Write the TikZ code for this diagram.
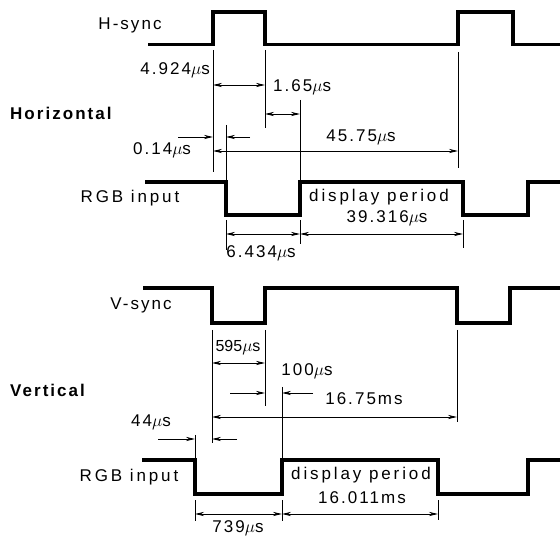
\documentclass[tikz,border=0pt]{standalone}
\usepackage{fontspec}
\setmainfont{Liberation Sans}[LetterSpace=12]
\newfontfamily\tightfont{Liberation Sans}
\newfontfamily\widefont{Liberation Sans}[LetterSpace=17]
\usetikzlibrary{arrows.meta}
\begin{document}
\begin{tikzpicture}[x=1pt,y=-1pt,
  sig/.style={line width=3.2pt, line join=miter},
  ext/.style={line width=0.9pt},
  dim/.style={line width=0.9pt,{Stealth[length=9pt,width=4.2pt]}-{Stealth[length=9pt,width=4.2pt]}},
  ina/.style={line width=0.9pt,-{Stealth[length=9pt,width=4.2pt]}},
  lbl/.style={inner sep=0pt, anchor=mid, font=\fontsize{17pt}{20pt}\selectfont},
  wlbl/.style={lbl, font=\fontsize{17pt}{20pt}\widefont},
  hd/.style={lbl, font=\fontsize{17pt}{20pt}\selectfont\bfseries}]
\useasboundingbox (0,0) rectangle (560,537);

% ---------- Horizontal ----------
\draw[sig] (148,44.5) -- (213,44.5) -- (213,12) -- (265,12) -- (265,44.5) -- (458,44.5) -- (458,12) -- (513,12) -- (513,44.5) -- (560,44.5);
\draw[sig] (145,182) -- (226,182) -- (226,215) -- (300,215) -- (300,182) -- (463,182) -- (463,215) -- (528,215) -- (528,182) -- (560,182);

% extension lines
\draw[ext] (213,50) -- (213,172);
\draw[ext] (265,50) -- (265,128);
\draw[ext] (458,52) -- (458,168);
\draw[ext] (300,100) -- (300,180);
\draw[ext] (226,125) -- (226,180);
\draw[ext] (226,220) -- (226,250);
\draw[ext] (300,220) -- (300,244);
\draw[ext] (463,220) -- (463,248);

% dimension arrows
\coordinate (a1) at (213,85);  \coordinate (b1) at (265,85);
\draw[dim] (a1) -- (b1);
\coordinate (a2) at (265,114); \coordinate (b2) at (300,114);
\draw[dim] (a2) -- (b2);
\coordinate (a3) at (178,137); \coordinate (b3) at (213,137);
\draw[ina] (a3) -- (b3);
\coordinate (a4) at (250,137); \coordinate (b4) at (226,137);
\draw[ina] (a4) -- (b4);
\coordinate (a5) at (213,151); \coordinate (b5) at (458,151);
\draw[dim] (a5) -- (b5);
\coordinate (a6) at (226,234); \coordinate (b6) at (300,234);
\draw[dim] (a6) -- (b6);
\coordinate (a7) at (300,234); \coordinate (b7) at (463,234);
\draw[dim] (a7) -- (b7);

% labels
\node[lbl] (hsync) at (130,27) {H-sync};
\node[lbl,anchor=mid east] (t4924) at (210,72) {4.924$\mu$s};
\node[lbl,anchor=mid west] (t165) at (273,89) {1.65$\mu$s};
\node[hd,anchor=mid west] (horiz) at (10,117) {Horizontal};
\node[lbl] (t014) at (162,152) {0.14$\mu$s};
\node[lbl] (t4575) at (361,139) {45.75$\mu$s};
\node[wlbl] (rgbh) at (130,200) {RGB input};
\node[wlbl] (disph) at (379,199) {display period};
\node[lbl] (t39316) at (387,220) {39.316$\mu$s};
\node[lbl] (t6434) at (261,255) {6.434$\mu$s};

% ---------- Vertical ----------
\draw[sig] (143,288) -- (212,288) -- (212,323) -- (265,323) -- (265,288) -- (457,288) -- (457,323) -- (510,323) -- (510,288) -- (560,288);
\draw[sig] (142,460) -- (195,460) -- (195,494) -- (282,494) -- (282,460) -- (438,460) -- (438,494) -- (528,494) -- (528,460) -- (560,460);

\draw[ext] (212,330) -- (212,443);
\draw[ext] (265,330) -- (265,406);
\draw[ext] (457,330) -- (457,422);
\draw[ext] (282,387) -- (282,458);
\draw[ext] (195,435) -- (195,458);
\draw[ext] (195,500) -- (195,521);
\draw[ext] (282,500) -- (282,521);
\draw[ext] (438,500) -- (438,520);

\coordinate (c1) at (212,363); \coordinate (d1) at (265,363);
\draw[dim] (c1) -- (d1);
\coordinate (c2) at (230,393); \coordinate (d2) at (265,393);
\draw[ina] (c2) -- (d2);
\coordinate (c3) at (313,393); \coordinate (d3) at (282,393);
\draw[ina] (c3) -- (d3);
\coordinate (c4) at (212,417); \coordinate (d4) at (457,417);
\draw[dim] (c4) -- (d4);
\coordinate (c5) at (158,439); \coordinate (d5) at (195,439);
\draw[ina] (c5) -- (d5);
\coordinate (c6) at (237,439); \coordinate (d6) at (212,439);
\draw[ina] (c6) -- (d6);
\coordinate (c7) at (195,514); \coordinate (d7) at (282,514);
\draw[dim] (c7) -- (d7);
\coordinate (c8) at (282,514); \coordinate (d8) at (438,514);
\draw[dim] (c8) -- (d8);

\node[lbl] (vsync) at (141,307) {V-sync};
\node[lbl,font=\fontsize{16pt}{19pt}\tightfont] (t595) at (238,349) {595$\mu$s};
\node[lbl] (t100) at (307,373) {100$\mu$s};
\node[hd,anchor=mid west] (vert) at (10,394) {Vertical};
\node[lbl] (t1675) at (364,402) {16.75ms};
\node[lbl] (t44) at (151,424) {44$\mu$s};
\node[wlbl] (rgbv) at (129,479) {RGB input};
\node[wlbl] (dispv) at (361,477) {display period};
\node[lbl] (t16011) at (362,501) {16.011ms};
\node[lbl] (t739) at (238,530) {739$\mu$s};
\end{tikzpicture}
\end{document}
